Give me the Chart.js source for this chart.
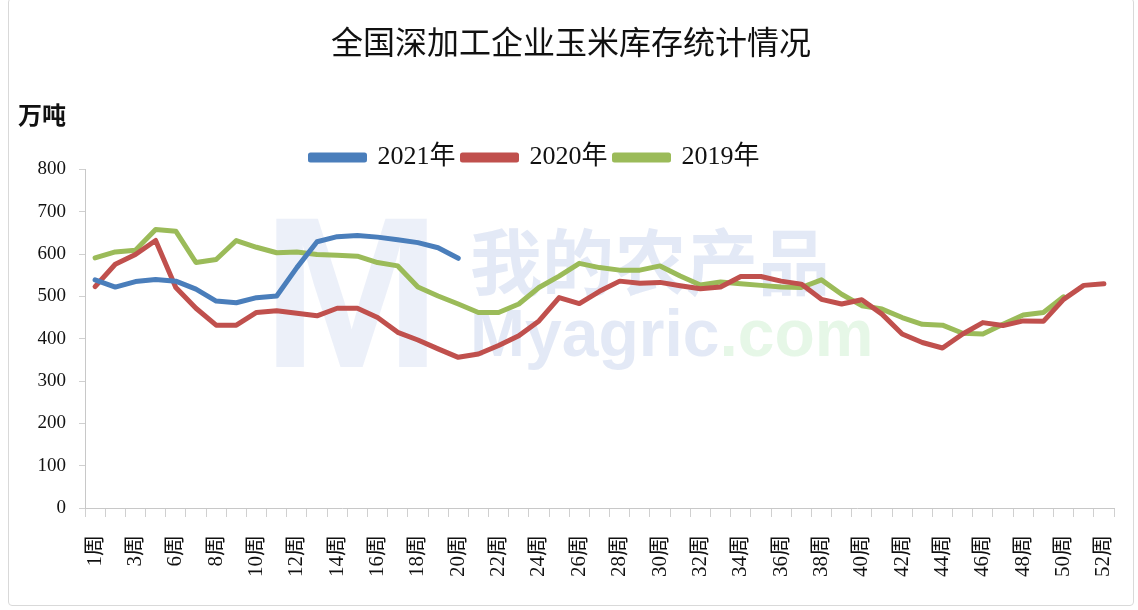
<!DOCTYPE html>
<html>
<head>
<meta charset="utf-8">
<script src="https://cdn.jsdelivr.net/npm/chart.js@4.4.0/dist/chart.umd.min.js"></script>
<style>
  html, body { margin: 0; padding: 0; background: #fff; }
  #wrap { position: relative; width: 1138px; height: 610px; }
  #frame {
    position: absolute; left: 8px; top: -2px; width: 1124px; height: 606px;
    border: 1px solid #d9d9d9; border-radius: 4px; pointer-events: none;
  }
</style>
</head>
<body>
<div id="wrap">
  <canvas id="myChart" width="1138" height="610"></canvas>
  <div id="frame"></div>
</div>
<script>
// week 5 is missing in the source (spring festival)
const weeks = [
  "1周", "2周", "3周", "4周", "6周", "7周", "8周", "9周", "10周", "11周",
  "12周", "13周", "14周", "15周", "16周", "17周", "18周", "19周", "20周", "21周",
  "22周", "23周", "24周", "25周", "26周", "27周", "28周", "29周", "30周", "31周",
  "32周", "33周", "34周", "35周", "36周", "37周", "38周", "39周", "40周", "41周",
  "42周", "43周", "44周", "45周", "46周", "47周", "48周", "49周", "50周", "51周",
  "52周"
];

const stock2021 = [539, 522, 535, 540, 536, 517, 489, 485, 497, 501,
  568, 629, 641, 644, 640, 634, 627, 615, 590];

const stock2020 = [523, 576, 599, 632, 521, 472, 432, 432, 462, 466,
  460, 454, 472, 472, 450, 415, 397, 376, 356, 364,
  384, 407, 442, 497, 483, 512, 536, 531, 533, 525,
  518, 522, 547, 547, 536, 529, 493, 482, 492, 458,
  411, 391, 378, 411, 438, 431, 442, 441, 493, 526,
  530];

const stock2019 = [591, 605, 609, 658, 654, 580, 587, 632, 616, 603,
  605, 599, 597, 595, 580, 572, 522, 501, 482, 462,
  462, 482, 521, 548, 578, 568, 562, 562, 572, 548,
  527, 534, 530, 526, 522, 521, 539, 505, 478, 470,
  450, 434, 432, 413, 411, 434, 456, 462, 499];

const yTicks = [0, 100, 200, 300, 400, 500, 600, 700, 800];

const serif = "'Liberation Serif', 'Noto Sans CJK SC', serif";

// faint site watermark, unit label, legend nudged like the original
const extras = {
  id: "extras",
  afterLayout(chart) {
    const lg = chart.legend;
    lg.left -= 36; lg.right -= 36;
    lg.top += 11; lg.bottom += 11;
  },
  beforeDatasetsDraw(chart) {
    const ctx = chart.ctx;
    ctx.save();
    ctx.textBaseline = "middle";
    ctx.textAlign = "left";
    ctx.font = "bold 215px 'Liberation Sans'";
    ctx.fillStyle = "rgba(200, 212, 238, 0.35)";
    ctx.fillText("M", 262, 308);
    ctx.font = "bold 72px 'Noto Sans CJK SC'";
    ctx.fillStyle = "rgba(200, 212, 238, 0.5)";
    ctx.fillText("我的农产品", 470, 262);
    ctx.font = "bold 66px 'Liberation Sans'";
    ctx.fillText("Myagric", 470, 338);
    const w = ctx.measureText("Myagric").width;
    ctx.fillStyle = "rgba(210, 240, 212, 0.55)";
    ctx.fillText(".com", 470 + w, 338);
    ctx.restore();
  },
  afterDraw(chart) {
    const ctx = chart.ctx;
    ctx.save();
    ctx.font = "bold 24px " + serif;
    ctx.fillStyle = "#111";
    ctx.textBaseline = "middle";
    ctx.textAlign = "left";
    ctx.fillText("万吨", 18, 118);
    ctx.restore();
  }
};

const lineSet = (label, data, color) => ({
  label: label,
  data: data,
  borderColor: color,
  backgroundColor: color,
  borderWidth: 5,
  pointRadius: 0,
  tension: 0,
  borderCapStyle: "round",
  borderJoinStyle: "round"
});

const config = {
  type: "line",
  data: {
    labels: weeks,
    datasets: [
      lineSet("2021年", stock2021, "#4a7ebb"),
      lineSet("2020年", stock2020, "#c0504d"),
      lineSet("2019年", stock2019, "#9bbb59")
    ]
  },
  options: {
    responsive: false,
    animation: false,
    layout: { padding: { left: 20, right: 16, top: 0, bottom: 0 } },
    scales: {
      x: {
        offset: true,
        grid: { display: true, drawOnChartArea: false, offset: true, tickLength: 9, color: "#d0d0d0" },
        border: { display: true, color: "#c8c8c8" },
        ticks: {
          autoSkip: false,
          minRotation: 90,
          maxRotation: 90,
          padding: 18,
          color: "#111",
          font: { family: serif, size: 21 },
          callback: function (value, index) {
            return index % 2 === 0 ? this.getLabelForValue(value) : "";
          }
        },
        afterFit: (scale) => {
          scale.height = 102;
          scale.paddingRight = 24;
        }
      },
      y: {
        min: 0,
        max: 800,
        afterBuildTicks: (scale) => { scale.ticks = yTicks.map(v => ({ value: v })); },
        grid: { display: true, drawOnChartArea: false, tickLength: 6, color: "#d0d0d0" },
        border: { display: true, color: "#c8c8c8" },
        ticks: {
          padding: 13,
          color: "#111",
          font: { family: serif, size: 19 }
        },
        afterFit: (scale) => { scale.width = 65; }
      }
    },
    plugins: {
      title: {
        display: true,
        text: "全国深加工企业玉米库存统计情况",
        color: "#111",
        font: { family: serif, size: 32, weight: "normal" },
        padding: { top: 26, bottom: 62 }
      },
      legend: {
        display: true,
        labels: {
          boxWidth: 54,
          boxHeight: 5,
          padding: 7,
          color: "#111",
          font: { family: serif, size: 26 }
        }
      },
      tooltip: { enabled: false }
    }
  },
  plugins: [extras]
};

const myChart = new Chart(document.getElementById("myChart").getContext("2d"), config);
</script>
</body>
</html>
